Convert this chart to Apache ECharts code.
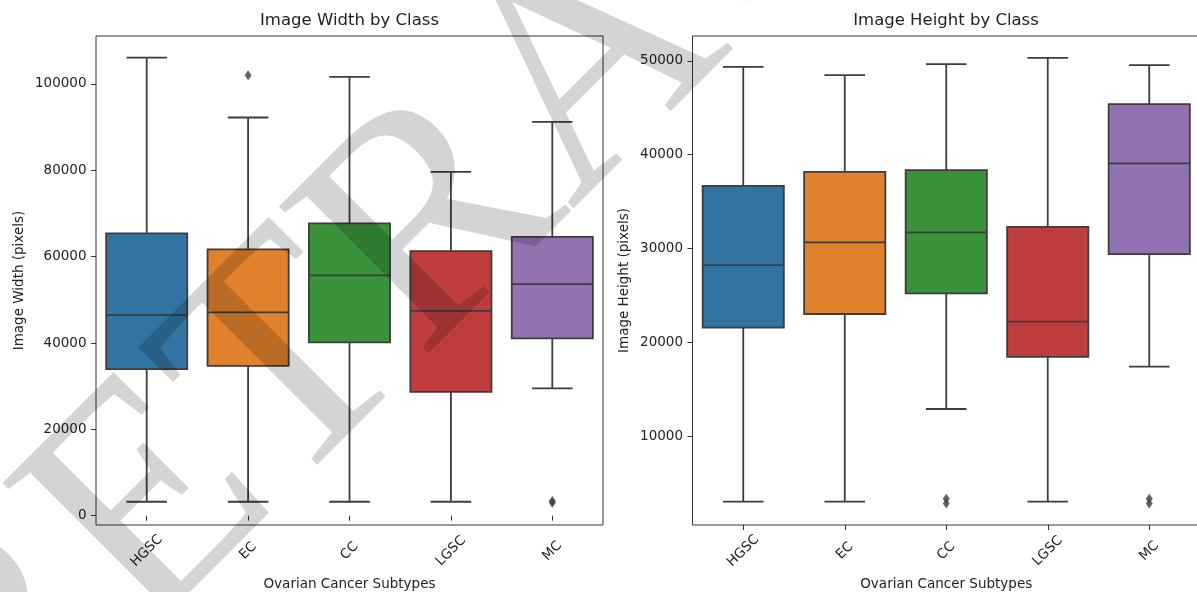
<!DOCTYPE html>
<html><head><meta charset="utf-8">
<script src="https://cdn.jsdelivr.net/npm/echarts@6/dist/echarts.min.js"></script>
<style>html,body{margin:0;padding:0;background:#fff}#c{width:1197px;height:592px}</style>
</head><body><div id="c"></div>
<script>
const categories = ['HGSC', 'EC', 'CC', 'LGSC', 'MC'];

const widthMin    = [3240, 3240, 3240, 3240, 29490];
const widthQ1     = [33960, 34720, 40140, 28700, 41070];
const widthMedian = [46460, 47080, 55650, 47450, 53630];
const widthQ3     = [65370, 61670, 67690, 61270, 64580];
const widthMax    = [106110, 92220, 101620, 79630, 91200];
const widthOutliers = [[1, 102010], [4, 3000], [4, 3400]];

const heightMin    = [3000, 3000, 12880, 3000, 17390];
const heightQ1     = [21550, 23010, 25210, 18450, 29400];
const heightMedian = [28230, 30650, 31720, 22190, 39070];
const heightQ3     = [36680, 38180, 38360, 32310, 45390];
const heightMax    = [49370, 48490, 49660, 50330, 49550];
const heightOutliers = [[2, 2800], [2, 3300], [4, 2800], [4, 3300]];

const widthTicks  = [0, 20000, 40000, 60000, 80000, 100000];
const heightTicks = [10000, 20000, 30000, 40000, 50000];

const palette = ['#3274a1', '#e1812c', '#3a923a', '#c03d3e', '#9372b2'];
const EDGE = '#3d3d3d';
const LW = 1.8;
const FONT = 'DejaVu Sans';
const TXT = '#222';

function boxData(mn, q1, md, q3, mx) {
  return categories.map((c, i) => [i, mn[i], q1[i], md[i], q3[i], mx[i]]);
}

function renderBox(params, api) {
  const i = api.value(0);
  const band = api.size([1, 0])[0];
  const bw = band * 0.8, half = bw / 2, cap = bw / 4;
  const p = k => api.coord([i, api.value(k)]);
  const pMin = p(1), pQ1 = p(2), pMed = p(3), pQ3 = p(4), pMax = p(5);
  const x = pMed[0];
  const ls = { stroke: EDGE, lineWidth: LW };
  return {
    type: 'group',
    children: [
      { type: 'line', shape: { x1: x, y1: pQ1[1], x2: x, y2: pMin[1] }, style: ls },
      { type: 'line', shape: { x1: x, y1: pQ3[1], x2: x, y2: pMax[1] }, style: ls },
      { type: 'line', shape: { x1: x - cap, y1: pMin[1], x2: x + cap, y2: pMin[1] }, style: ls },
      { type: 'line', shape: { x1: x - cap, y1: pMax[1], x2: x + cap, y2: pMax[1] }, style: ls },
      { type: 'rect', shape: { x: x - half, y: pQ3[1], width: bw, height: pQ1[1] - pQ3[1] },
        style: { fill: palette[i], stroke: EDGE, lineWidth: LW } },
      { type: 'line', shape: { x1: x - half, y1: pMed[1], x2: x + half, y2: pMed[1] }, style: ls }
    ]
  };
}

function xAxisCfg(gi) {
  return {
    type: 'category', gridIndex: gi, data: categories, boundaryGap: true,
    axisLine: { show: false },
    axisTick: { show: true, alignWithLabel: true, interval: 0, length: 5, lineStyle: { color: '#333', width: 1 } },
    axisLabel: { interval: 0, rotate: 45, align: 'center', verticalAlign: 'middle', margin: 26,
      fontFamily: FONT, fontSize: 13.5, color: TXT },
    splitLine: { show: false },
    name: 'Ovarian Cancer Subtypes', nameLocation: 'middle', nameGap: 52,
    nameTextStyle: { fontFamily: FONT, fontSize: 13.5, color: TXT }
  };
}
function yAxisCfg(gi, min, max, ticks, name, gap) {
  return {
    type: 'value', gridIndex: gi, min: min, max: max,
    axisLine: { show: false },
    axisTick: { show: true, length: 5, customValues: ticks, lineStyle: { color: '#333', width: 1 } },
    axisLabel: { customValues: ticks, margin: 9.5, fontFamily: FONT, fontSize: 13.5, color: TXT,
      formatter: v => String(v) },
    splitLine: { show: false },
    name: name, nameLocation: 'middle', nameGap: gap,
    nameTextStyle: { fontFamily: FONT, fontSize: 13.5, color: TXT }
  };
}

const chart = echarts.init(document.getElementById('c'), null, { renderer: 'canvas' });
chart.setOption({
  backgroundColor: '#fff',
  animation: false,
  grid: [
    { left: 96, top: 36, width: 507, height: 489, outerBoundsMode: 'none', containLabel: false,
      show: true, borderColor: '#333', borderWidth: 1, backgroundColor: 'transparent' },
    { left: 692.5, top: 36, width: 507.5, height: 489, outerBoundsMode: 'none', containLabel: false,
      show: true, borderColor: '#333', borderWidth: 1, backgroundColor: 'transparent' }
  ],
  xAxis: [xAxisCfg(0), xAxisCfg(1)],
  yAxis: [
    yAxisCfg(0, -2150, 111100, widthTicks, 'Image Width (pixels)', 70),
    yAxisCfg(1, 510, 52660, heightTicks, 'Image Height (pixels)', 61)
  ],
  series: [
    { type: 'custom', xAxisIndex: 0, yAxisIndex: 0, renderItem: renderBox,
      encode: { x: 0, y: [1, 2, 3, 4, 5] },
      data: boxData(widthMin, widthQ1, widthMedian, widthQ3, widthMax) },
    { type: 'custom', xAxisIndex: 1, yAxisIndex: 1, renderItem: renderBox,
      encode: { x: 0, y: [1, 2, 3, 4, 5] },
      data: boxData(heightMin, heightQ1, heightMedian, heightQ3, heightMax) },
    { type: 'scatter', xAxisIndex: 0, yAxisIndex: 0, symbol: 'diamond', symbolSize: [7, 10],
      itemStyle: { color: EDGE }, data: widthOutliers, z: 5 },
    { type: 'scatter', xAxisIndex: 1, yAxisIndex: 1, symbol: 'diamond', symbolSize: [7, 10],
      itemStyle: { color: EDGE }, data: heightOutliers, z: 5 }
  ],
  graphic: { elements: [
    { type: 'text', x: 349.5, y: 20.5, z: 10, style: { text: 'Image Width by Class', textAlign: 'center', textVerticalAlign: 'middle',
      fontFamily: FONT, fontSize: 16.5, fill: TXT } },
    { type: 'text', x: 946, y: 20.5, z: 10, style: { text: 'Image Height by Class', textAlign: 'center', textVerticalAlign: 'middle',
      fontFamily: FONT, fontSize: 16.5, fill: TXT } },
    { type: 'text', x: 600, y: 63, rotation: Math.PI / 4, z: 100, silent: true,
      style: { text: 'RETRACTED', textAlign: 'center', textVerticalAlign: 'middle',
        fontFamily: 'Liberation Serif', fontSize: 320, fill: 'rgba(0,0,0,0.17)' } }
  ] }
});
</script>
</body></html>
